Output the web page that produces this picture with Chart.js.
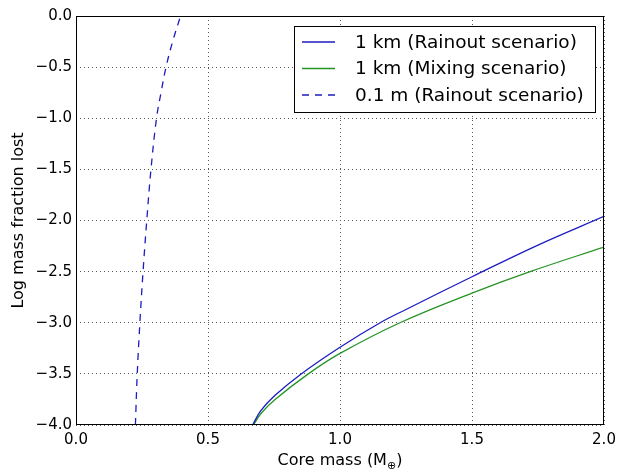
<!DOCTYPE html>
<html>
<head>
<meta charset="utf-8">
<script src="https://cdn.jsdelivr.net/npm/chart.js@4.4.1/dist/chart.umd.min.js"></script>
<style>
  body { margin: 0; background: #fff; }
  #wrap { width: 619px; height: 470px; }
</style>
</head>
<body>
<div id="wrap"><canvas id="massChart" width="619" height="470"></canvas></div>
<script>
// Data
const rainoutKmX = [0.669, 0.70, 0.754, 0.848, 1.0, 1.152, 1.25, 1.5, 1.75, 2.0];
const rainoutKmY = [-4.0, -3.86, -3.71, -3.51, -3.24, -3.0, -2.87, -2.55, -2.24, -1.96];

const mixingKmX = [0.672, 0.703, 0.754, 0.880, 1.0, 1.227, 1.5, 1.72, 2.0];
const mixingKmY = [-4.0, -3.88, -3.75, -3.50, -3.30, -3.0, -2.71, -2.50, -2.26];

const rainoutSmallX = [0.225, 0.232, 0.242, 0.254, 0.268, 0.284, 0.305, 0.322, 0.341, 0.366, 0.396];
const rainoutSmallY = [-4.0, -3.5, -3.0, -2.5, -2.0, -1.5, -1.0, -0.75, -0.5, -0.25, 0.0];

const seriesLabels = ["1 km (Rainout scenario)", "1 km (Mixing scenario)", "0.1 m (Rainout scenario)"];
const xTicks = [0, 0.5, 1.0, 1.5, 2.0];
const yTicks = [-4, -3.5, -3, -2.5, -2, -1.5, -1, -0.5, 0];

function toPoints(xs, ys) {
    return xs.map((x, i) => ({ x: x, y: ys[i] }));
}

function fmt(v) {
    const s = Math.abs(v).toFixed(1);
    return v < 0 ? "\u2212" + s : s;
}

const blue = "#1c1cc0";
const green = "#249424";
const font = "'DejaVu Sans', sans-serif";

// Frame, x title and legend drawn on top of the chart
const extras = {
    id: "extras",
    afterDraw(chart) {
        const c = chart.ctx;
        const a = chart.chartArea;
        c.save();

        // axes box
        c.strokeStyle = "#000";
        c.lineWidth = 1;
        c.strokeRect(Math.round(a.left) + 0.5, Math.round(a.top) + 0.5,
            Math.round(a.right - a.left) - 1, Math.round(a.bottom - a.top) - 1);

        // x axis title with subscript
        c.fillStyle = "#000";
        c.textBaseline = "alphabetic";
        const main = "Core mass (M";
        c.font = "16px " + font;
        const w1 = c.measureText(main).width;
        c.font = "11px " + font;
        const w2 = c.measureText("\u2295").width;
        c.font = "16px " + font;
        const w3 = c.measureText(")").width;
        const x0 = (a.left + a.right) / 2 - (w1 + w2 + w3) / 2;
        const base = 465;
        c.textAlign = "left";
        c.fillText(main, x0, base);
        c.font = "11px " + font;
        c.fillText("\u2295", x0 + w1, base + 4);
        c.font = "16px " + font;
        c.fillText(")", x0 + w1 + w2, base);

        // legend
        const lx = 294.5, ly = 26.5, lw = 301, lh = 86;
        c.fillStyle = "#fff";
        c.fillRect(lx, ly, lw, lh);
        c.strokeStyle = "#000";
        c.strokeRect(lx, ly, lw, lh);
        c.font = "18.5px " + font;
        c.textBaseline = "middle";
        chart.data.datasets.forEach((ds, i) => {
            const y = 42 + i * 26.5;
            c.strokeStyle = ds.borderColor;
            c.lineWidth = ds.borderWidth;
            c.setLineDash(ds.borderDash || []);
            c.beginPath();
            c.moveTo(302, y);
            c.lineTo(335, y);
            c.stroke();
            c.setLineDash([]);
            c.fillStyle = "#000";
            c.fillText(ds.label, 355, y + 1);
        });
        c.restore();
    }
};

const ctx = document.getElementById("massChart");

const chart = new Chart(ctx, {
    type: "scatter",
    data: {
        datasets: [
            {
                label: seriesLabels[0],
                data: toPoints(rainoutKmX, rainoutKmY),
                borderColor: blue,
                borderWidth: 1.3,
                showLine: true,
                pointRadius: 0,
                tension: 0.4
            },
            {
                label: seriesLabels[1],
                data: toPoints(mixingKmX, mixingKmY),
                borderColor: green,
                borderWidth: 1.3,
                showLine: true,
                pointRadius: 0,
                tension: 0.4
            },
            {
                label: seriesLabels[2],
                data: toPoints(rainoutSmallX, rainoutSmallY),
                borderColor: blue,
                borderWidth: 1.3,
                borderDash: [7, 6],
                showLine: true,
                pointRadius: 0,
                tension: 0.4
            }
        ]
    },
    options: {
        responsive: false,
        animation: false,
        layout: { padding: { top: 16, right: 15, left: 0, bottom: 0 } },
        plugins: {
            legend: { display: false },
            tooltip: { enabled: false }
        },
        scales: {
            x: {
                type: "linear",
                min: 0,
                max: 2,
                afterBuildTicks(scale) {
                    scale.ticks = xTicks.map(v => ({ value: v }));
                },
                afterFit(scale) {
                    scale.height = 45;
                    scale.paddingLeft = 0;
                    scale.paddingRight = 0;
                },
                ticks: {
                    color: "#000",
                    font: { family: font, size: 15 },
                    padding: 6,
                    maxRotation: 0,
                    callback: v => fmt(v)
                },
                grid: {
                    color: "#555",
                    lineWidth: 1,
                    drawTicks: false
                },
                border: { display: false, dash: [1, 3] }
            },
            y: {
                type: "linear",
                min: -4,
                max: 0,
                afterBuildTicks(scale) {
                    scale.ticks = yTicks.map(v => ({ value: v }));
                },
                afterFit(scale) {
                    scale.width = 76;
                    scale.paddingTop = 0;
                    scale.paddingBottom = 0;
                },
                ticks: {
                    color: "#000",
                    font: { family: font, size: 15 },
                    padding: 4,
                    callback: v => fmt(v)
                },
                grid: {
                    color: "#555",
                    lineWidth: 1,
                    drawTicks: false
                },
                border: { display: false, dash: [1, 3] },
                title: {
                    display: true,
                    text: "Log mass fraction lost",
                    color: "#000",
                    font: { family: font, size: 16 },
                    padding: { top: 9, bottom: 0 }
                }
            }
        }
    },
    plugins: [extras]
});
</script>
</body>
</html>
